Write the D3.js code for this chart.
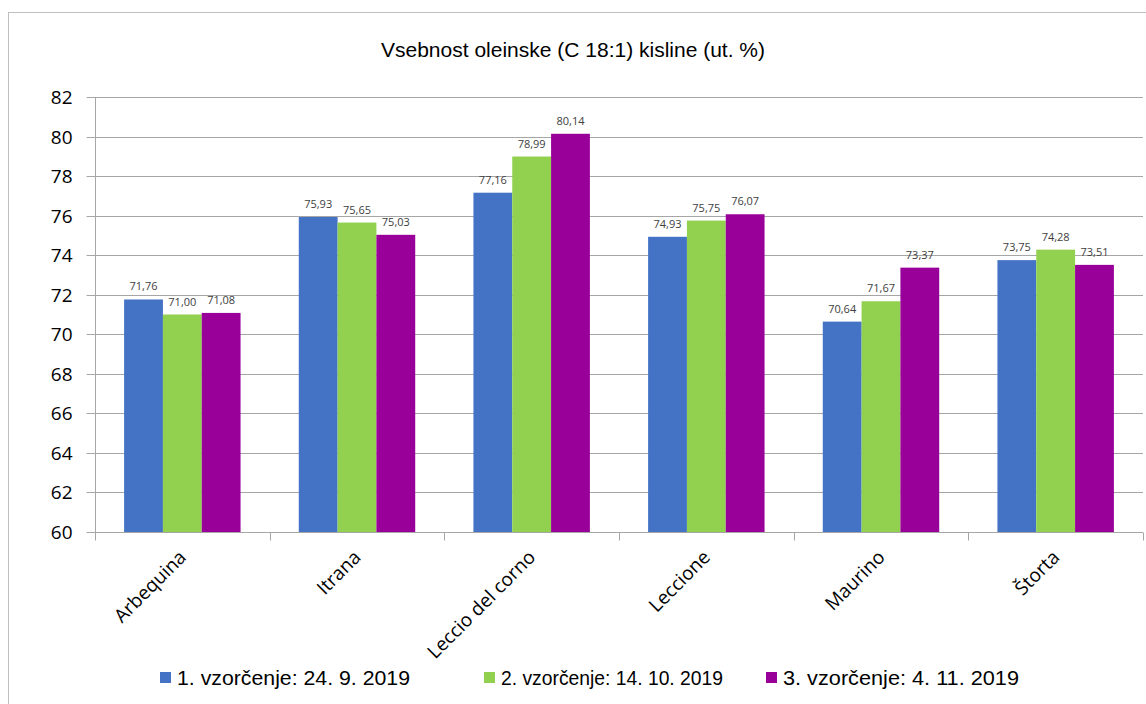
<!DOCTYPE html>
<html><head><meta charset="utf-8">
<script src="https://cdn.jsdelivr.net/npm/d3@7"></script>
<style>body{margin:0;background:#fff}svg{display:block}</style>
</head><body>
<script>
const categories = ["Arbequina","Itrana","Leccio del corno","Leccione","Maurino","Štorta"];
const seriesNames = ["1. vzorčenje: 24. 9. 2019","2. vzorčenje: 14. 10. 2019","3. vzorčenje: 4. 11. 2019"];
const series1 = [71.76,75.93,77.16,74.93,70.64,73.75];
const series2 = [71.00,75.65,78.99,75.75,71.67,74.28];
const series3 = [71.08,75.03,80.14,76.07,73.37,73.51];
const yTicks = [60,62,64,66,68,70,72,74,76,78,80,82];
const colors = ["#4472C4","#92D050","#990099"];
const title = "Vsebnost oleinske (C 18:1) kisline (ut. %)";

(function(){
const W=1146,H=704;
const svg=d3.select("body").append("svg").attr("width",W).attr("height",H);
const font="'Open Sans', 'Liberation Sans', sans-serif";
svg.append("rect").attr("x",8.5).attr("y",12.5).attr("width",W+10).attr("height",H+10)
  .attr("fill","none").attr("stroke","#bfbfbf");

const pl=95,pr=1143,pt=97,pb=532;
const x=d3.scaleBand().domain(categories).range([pl,pr]);
const y=d3.scaleLinear().domain([60,82]).range([pb,pt]);
const data=[series1,series2,series3];
const nS=3, gap=1.5;
const bw=x.bandwidth()/(nS+gap);

svg.append("g").selectAll("line").data(yTicks.filter(d=>d>60)).join("line")
  .attr("x1",pl).attr("x2",pr).attr("y1",d=>Math.round(y(d))+0.5).attr("y2",d=>Math.round(y(d))+0.5)
  .attr("stroke","#a6a6a6").attr("stroke-width",1);

const ya=svg.append("g").attr("transform",`translate(${pl+0.5},0)`)
  .call(d3.axisLeft(y).tickValues(yTicks).tickSize(9).tickPadding(14).tickFormat(d3.format("d")));
ya.select(".domain").attr("stroke","#a6a6a6").attr("d",`M0,${pt}V${pb}`);
ya.selectAll(".tick line").attr("stroke","#a6a6a6");
ya.selectAll(".tick").attr("transform",d=>`translate(0,${Math.round(y(d))+0.5})`);
ya.selectAll("text").attr("font-family",font).attr("font-size",19).attr("fill","#000");

categories.forEach((c,i)=>{
  data.forEach((s,j)=>{
    const bx=x(c)+bw*(gap/2)+j*bw;
    svg.append("rect").attr("x",bx).attr("y",y(s[i])).attr("width",bw).attr("height",y(60)-y(s[i]))
      .attr("fill",colors[j]);
    svg.append("text").attr("x",bx+bw/2).attr("y",y(s[i])-9).attr("text-anchor","middle")
      .attr("font-family",font).attr("font-size",11).attr("fill","#404040")
      .text(d3.format(".2f")(s[i]).replace(".",","));
  });
});

const xa=svg.append("g").attr("transform",`translate(0,${pb+0.5})`);
xa.append("line").attr("x1",pl).attr("x2",pr).attr("stroke","#a6a6a6");
const bounds=categories.map(c=>x(c)).concat([pr]);
xa.selectAll(".tk").data(bounds).join("line").attr("class","tk")
  .attr("x1",d=>Math.round(d)+0.5).attr("x2",d=>Math.round(d)+0.5).attr("y1",0).attr("y2",8)
  .attr("stroke","#a6a6a6");
xa.selectAll(".lbl").data(categories).join("text").attr("class","lbl")
  .attr("transform",c=>`translate(${x(c)+x.bandwidth()/2+5},${26}) rotate(-45)`)
  .attr("text-anchor","end").attr("font-family",font).attr("font-size",19).attr("fill","#000")
  .text(d=>d);

svg.append("text").attr("x",573).attr("y",57).attr("text-anchor","middle")
  .attr("font-family","'Liberation Sans', sans-serif").attr("font-size",21).attr("fill","#000").text(title);

const legX=[160,484,766];
seriesNames.forEach((n,j)=>{
  svg.append("rect").attr("x",legX[j]).attr("y",672).attr("width",11).attr("height",11).attr("fill",colors[j]);
  svg.append("text").attr("x",legX[j]+17).attr("y",685).attr("font-family","'Liberation Sans', sans-serif")
    .attr("font-size",21).attr("fill","#000")
    .attr("textLength",[233,222,236][j]).attr("lengthAdjust","spacingAndGlyphs").text(n);
});
})();
</script>
</body></html>
